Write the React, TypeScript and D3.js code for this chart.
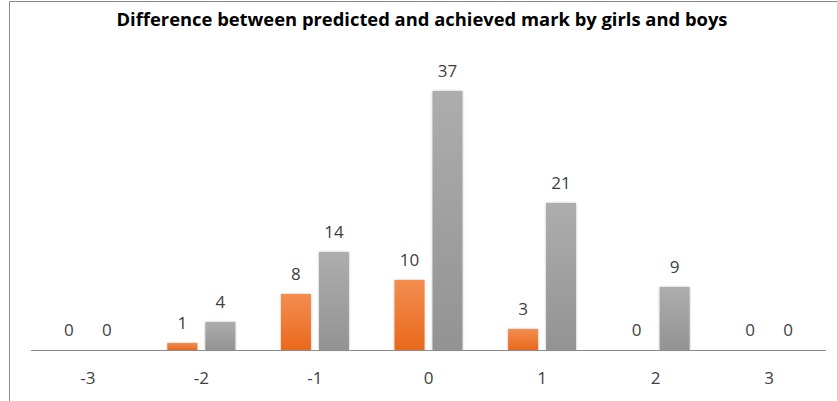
import React from "react";
import * as d3 from "d3";

const categories = ["-3", "-2", "-1", "0", "1", "2", "3"];
const girls = [0, 1, 8, 10, 3, 0, 0];
const boys = [0, 4, 14, 37, 21, 9, 0];
const seriesNames = ["Girls", "Boys"];
const title = "Difference between predicted and achieved mark by girls and boys";

const W = 837;
const H = 401;
const plotLeft = 31;
const plotRight = 826;
const baseY = 350;
const font = "'Open Sans', 'DejaVu Sans', sans-serif";

export default function App() {
  const x = d3.scaleBand<string>().domain(categories).range([plotLeft, plotRight]).paddingInner(0).paddingOuter(0);
  const y = d3.scaleLinear().domain([0, 40]).range([baseY, 70]);
  const barW = 30;
  const gap = 8;
  const series = [girls, boys];
  const fills = ["url(#gOrange)", "url(#gGray)"];
  const offsets = [-gap / 2 - barW, gap / 2];

  return (
    <svg width={W} height={H} style={{ position: "absolute", left: 0, top: 0, background: "#fff" }}>
      <defs>
        <linearGradient id="gOrange" x1="0" y1="0" x2="0" y2="1">
          <stop offset="0%" stopColor="#f38d4f" />
          <stop offset="100%" stopColor="#e9691d" />
        </linearGradient>
        <linearGradient id="gGray" x1="0" y1="0" x2="0" y2="1">
          <stop offset="0%" stopColor="#adadad" />
          <stop offset="100%" stopColor="#939393" />
        </linearGradient>
        <filter id="shadow" x="-20%" y="-5%" width="140%" height="110%">
          <feGaussianBlur in="SourceAlpha" stdDeviation="1.2" />
          <feOffset dx="0" dy="0" result="b" />
          <feComponentTransfer><feFuncA type="linear" slope="0.3" /></feComponentTransfer>
          <feMerge>
            <feMergeNode />
            <feMergeNode in="SourceGraphic" />
          </feMerge>
        </filter>
      </defs>
      <path d={`M9.5,${H} V1.5 H${W}`} fill="none" stroke="#8c8c8c" strokeWidth={1} />
      <text
        x={422}
        y={26}
        textAnchor="middle"
        fontFamily={font}
        fontWeight="bold"
        fontSize={17}
        fill="#000"
        textLength={611}
        lengthAdjust="spacingAndGlyphs"
      >
        {title}
      </text>
      {series.map((vals, si) => (
        <g key={seriesNames[si]}>
          {vals.map((v, i) => {
            const cx = (x(categories[i]) as number) + x.bandwidth() / 2;
            const bx = cx + offsets[si];
            return (
              <g key={i}>
                {v > 0 && (
                  <rect
                    x={bx}
                    y={y(v)}
                    width={barW}
                    height={baseY - y(v)}
                    fill={fills[si]}
                    filter="url(#shadow)"
                  />
                )}
                <text
                  x={bx + barW / 2}
                  y={y(v) - 14.5}
                  textAnchor="middle"
                  fontFamily={font}
                  fontSize={17}
                  fill="#404040"
                >
                  {v}
                </text>
              </g>
            );
          })}
        </g>
      ))}
      <line x1={plotLeft} x2={plotRight} y1={baseY + 0.5} y2={baseY + 0.5} stroke="#8c8c8c" strokeWidth={1} />
      {categories.map((c) => (
        <text
          key={c}
          x={(x(c) as number) + x.bandwidth() / 2}
          y={384}
          textAnchor="middle"
          fontFamily={font}
          fontSize={17}
          fill="#404040"
        >
          {c}
        </text>
      ))}
    </svg>
  );
}
